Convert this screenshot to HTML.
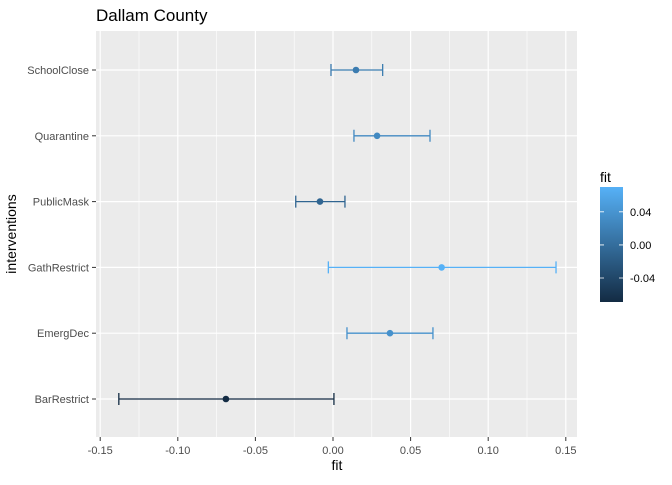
<!DOCTYPE html>
<html><head><meta charset="utf-8"><style>
body{margin:0;background:#fff;font-family:"Liberation Sans",sans-serif}
text{font-family:"Liberation Sans",sans-serif}
</style></head><body>
<svg id="c" width="672" height="480" xmlns="http://www.w3.org/2000/svg">
<defs><linearGradient id="g" x1="0" y1="1" x2="0" y2="0"><stop offset="0" stop-color="#132B43"/><stop offset="1" stop-color="#56B1F7"/></linearGradient></defs>
<text x="96" y="21" font-size="17" fill="#000">Dallam County</text>
<rect x="96" y="31" width="481" height="406" fill="#EBEBEB"/>
<g id="grid"></g><g id="marks"></g><g id="axes"></g>
<text x="337" y="470" font-size="14" text-anchor="middle">fit</text>
<text transform="translate(16,234) rotate(-90)" font-size="14" text-anchor="middle">interventions</text>
<text x="600" y="182" font-size="14">fit</text>
<rect x="600" y="187" width="23" height="115" fill="url(#g)"/>
<g id="leg"></g>
</svg>
<script>
const categories=["BarRestrict","EmergDec","GathRestrict","PublicMask","Quarantine","SchoolClose"];
const fitValues=[-0.069,0.0367,0.070,-0.0084,0.0284,0.0148];
const lowerValues=[-0.138,0.009,-0.003,-0.024,0.0135,-0.0013];
const upperValues=[0.0006,0.0644,0.1437,0.0077,0.0625,0.032];
const xTicks=[-0.15,-0.10,-0.05,0.00,0.05,0.10,0.15];
const xTickLabels=["-0.15","-0.10","-0.05","0.00","0.05","0.10","0.15"];
const legendTicks=[0.04,0.00,-0.04];
const legendLabels=["0.04","0.00","-0.04"];
const NS="http://www.w3.org/2000/svg";
const xs=v=>333+v*1552;
const ys=i=>399-i*65.8;
const fmin=Math.min(...fitValues),fmax=Math.max(...fitValues);
const ly=v=>302-(v-fmin)/(fmax-fmin)*115;
function col(v){const t=(v-fmin)/(fmax-fmin);const a=[0x13,0x2B,0x43],b=[0x56,0xB1,0xF7];return "rgb("+a.map((x,i)=>Math.round(x+(b[i]-x)*t)).join(",")+")";}
function mk(p,tag,at){const e=document.createElementNS(NS,tag);for(const k in at)e.setAttribute(k,at[k]);document.getElementById(p).appendChild(e);return e;}
for(let i=0;i<xTicks.length-1;i++){const m=(xTicks[i]+xTicks[i+1])/2;
const e=mk("grid","line",{x1:xs(m),x2:xs(m),y1:31,y2:437,stroke:"#fff","stroke-width":0.6});
}
xTicks.forEach((v,i)=>{const e=mk("grid","line",{x1:xs(v),x2:xs(v),y1:31,y2:437,stroke:"#fff","stroke-width":1.2});

const t=mk("axes","line",{x1:xs(v),x2:xs(v),y1:437,y2:441,stroke:"#333"});

const l=mk("axes","text",{x:xs(v),y:454,"font-size":11,"text-anchor":"middle",fill:"#4D4D4D"});l.textContent=xTickLabels[i];
});
categories.forEach((c,i)=>{const y=ys(i);
const g=mk("grid","line",{x1:96,x2:577,y1:y,y2:y,stroke:"#fff","stroke-width":1.2});

const t=mk("axes","line",{x1:92,x2:96,y1:y,y2:y,stroke:"#333"});

const l=mk("axes","text",{x:89,y:y+4,"font-size":11,"text-anchor":"end",fill:"#4D4D4D"});l.textContent=c;

const cl=col(fitValues[i]),x1=xs(lowerValues[i]),x2=xs(upperValues[i]);
const h=mk("marks","path",{d:`M${x1},${y-6}V${y+6}M${x1},${y}H${x2}M${x2},${y-6}V${y+6}`,stroke:cl,"stroke-width":1.3,fill:"none"});

const p=mk("marks","circle",{cx:xs(fitValues[i]),cy:y,r:3.3,fill:cl});
});
legendTicks.forEach((v,i)=>{const y=ly(v);
const a=mk("leg","path",{d:`M600,${y}h4M619,${y}h4`,stroke:"#fff","stroke-width":0.8});

const l=mk("leg","text",{x:630,y:y+4,"font-size":11,fill:"#000"});l.textContent=legendLabels[i];
});
</script>
</body></html>
